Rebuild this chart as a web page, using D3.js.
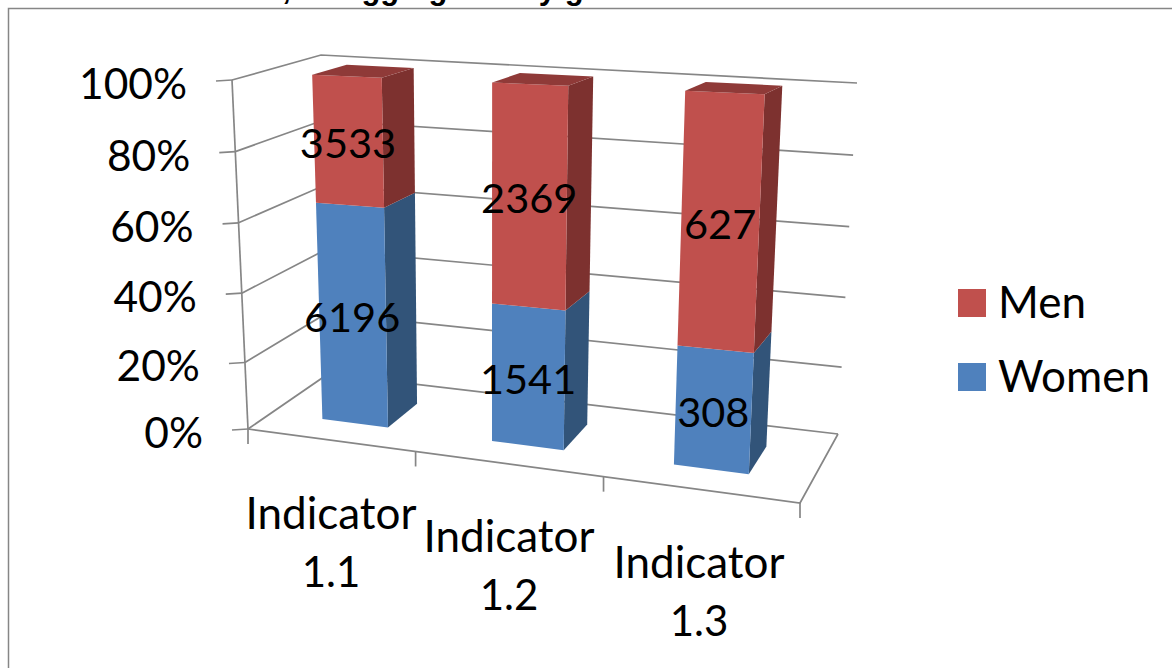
<!DOCTYPE html>
<html><head><meta charset="utf-8">
<script src="https://cdn.jsdelivr.net/npm/d3@7"></script>
<style>html,body{margin:0;padding:0;background:#fff}svg{display:block}text{font-family:Lato,sans-serif;fill:#000}</style>
</head><body><svg id="c" width="1172" height="668"></svg>
<script>
const categories = ["Indicator 1.1","Indicator 1.2","Indicator 1.3"];
const women = [6196,1541,308];
const men = [3533,2369,627];
const seriesNames = ["Women","Men"];
const yTicks = [0,0.2,0.4,0.6,0.8,1];

const svg = d3.select("#c");
// 3D box corners on screen
const box = {
  fbl:[248,429], fbr:[800,503], bbl:[328,374], bbr:[838,434],
  ftl:[232,80],  ftr:[820,103], btl:[321,55],  btr:[857,83]
};
const lerp=(a,b,t)=>[a[0]+(b[0]-a[0])*t,a[1]+(b[1]-a[1])*t];
const uS=d3.scaleBand().domain(categories).range([0.015,0.99]).paddingInner(0.6).paddingOuter(0.3);
const uWarp=d3.scalePow().exponent(1.085).domain([0,1]).range([0,1]);
const vS=d3.scalePow().exponent(1.03).domain([0,1]).range([0,1]);
function proj(u0,d,val){
  const v=vS(val),u=uWarp(u0);
  const bot=lerp(lerp(box.fbl,box.fbr,u),lerp(box.bbl,box.bbr,u),d);
  const top=lerp(lerp(box.ftl,box.ftr,u),lerp(box.btl,box.btr,u),d);
  return lerp(bot,top,v);
}
const poly=pts=>"M"+pts.map(p=>p.join(",")).join("L")+"Z";
const grid="#868686";
const line=d3.line();
const gl=(pts)=>svg.append("path").attr("d",line(pts)).attr("fill","none").attr("stroke",grid).attr("stroke-width",1.7);

// frame
svg.append("rect").attr("x",8.5).attr("y",8.5).attr("width",1300).attr("height",800).attr("fill","#fff").attr("stroke",grid).attr("stroke-width",1.5);
// title, clipped by the top of the picture as in the reference
svg.append("text").attr("x",668).attr("y",-1).attr("text-anchor","end").style("font-family","'Liberation Sans',sans-serif").style("font-weight","bold").style("font-size","31px").text("of the indicators, disaggregated by gender");

yTicks.forEach(t=>{
  gl([proj(0,0,t),proj(0,1,t),proj(1,1,t)]);
  const p=proj(0,0,t);
  gl([[p[0]-16,p[1]+1],p]);
  svg.append("text").attr("x",p[0]-45).attr("y",p[1]+19).attr("text-anchor","end").style("font-size","42.5px").text(d3.format(".0%")(t));
});
gl([proj(0,0,0),proj(0,0,1)]);
gl([proj(0,0,0),proj(1,0,0),proj(1,1,0)]);
[0,1/3,2/3,1].forEach(u=>{
  const p=proj(u,0,0);
  gl([p,[p[0],p[1]+15]]);
});

// bars
const d0=0.3,d1=0.71;
const colors={Women:["#4f81bd","#325479","#3f6797"],Men:["#c0504d","#7d312f","#8f3a38"]};
categories.forEach((c,i)=>{
  const tot=women[i]+men[i], split=women[i]/tot;
  const u0=uS(c),u1=u0+uS.bandwidth();
  [["Women",0,split],["Men",split,1]].forEach(([name,a,b])=>{
    const col=colors[name];
    svg.append("path").attr("d",poly([proj(u1,d0,a),proj(u1,d1,a),proj(u1,d1,b),proj(u1,d0,b)])).attr("fill",col[1]);
    svg.append("path").attr("d",poly([proj(u0,d0,a),proj(u1,d0,a),proj(u1,d0,b),proj(u0,d0,b)])).attr("fill",col[0]);
    if(b===1) svg.append("path").attr("d",poly([proj(u0,d0,1),proj(u1,d0,1),proj(u1,d1,1),proj(u0,d1,1)])).attr("fill",col[2]);
  });
  const uc=u0+uS.bandwidth()/2;
  const pw=proj(uc,d0,split/2), pm=proj(uc,d0,(split+1)/2);
  svg.append("text").attr("x",pw[0]).attr("y",pw[1]+16).attr("text-anchor","middle").style("font-size","41.5px").text(women[i]);
  svg.append("text").attr("x",pm[0]).attr("y",pm[1]+17).attr("text-anchor","middle").style("font-size","41.5px").text(men[i]);
  const parts=c.split(" ");
  const cx=[331,509,699][i], ly=[529,552,578][i];
  svg.append("text").attr("x",cx).attr("y",ly).attr("text-anchor","middle").style("font-size","44px").text(parts[0]);
  svg.append("text").attr("x",cx).attr("y",ly+58).attr("text-anchor","middle").style("font-size","42px").text(parts[1]);
});

// legend
[["Men",colors.Men[0],303],["Women",colors.Women[0],377]].forEach(([n,col,y])=>{
  svg.append("rect").attr("x",958).attr("y",y-14).attr("width",28).attr("height",28).attr("fill",col);
  svg.append("text").attr("x",998).attr("y",y+15).style("font-size","44px").text(n);
});
</script></body></html>
